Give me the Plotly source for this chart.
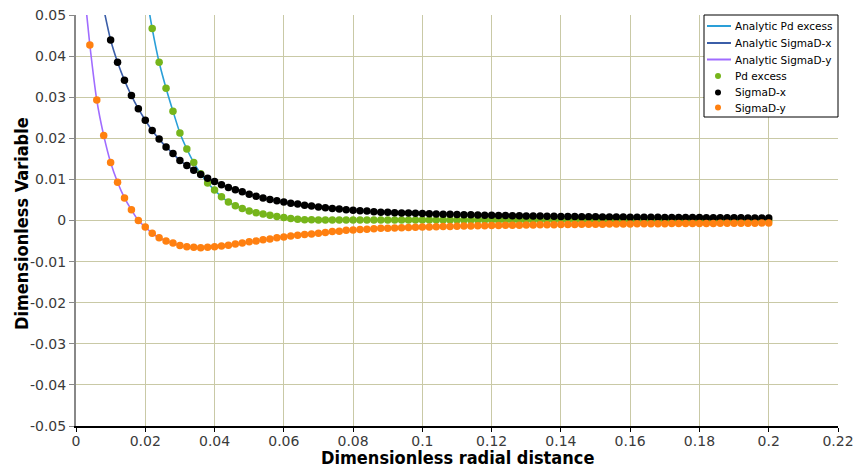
import plotly.graph_objects as go

# Sample radii (dimensionless)
r = [0.004, 0.006, 0.008, 0.010, 0.012, 0.014, 0.016, 0.018, 0.020, 0.022,
     0.024, 0.026, 0.028, 0.030, 0.032, 0.034, 0.036, 0.038, 0.040, 0.042,
     0.044, 0.046, 0.048, 0.050, 0.052, 0.054, 0.056, 0.058, 0.060, 0.062,
     0.064, 0.066, 0.068, 0.070, 0.072, 0.074, 0.076, 0.078, 0.080, 0.082,
     0.084, 0.086, 0.088, 0.090, 0.092, 0.094, 0.096, 0.098, 0.100, 0.102,
     0.104, 0.106, 0.108, 0.110, 0.112, 0.114, 0.116, 0.118, 0.120, 0.122,
     0.124, 0.126, 0.128, 0.130, 0.132, 0.134, 0.136, 0.138, 0.140, 0.142,
     0.144, 0.146, 0.148, 0.150, 0.152, 0.154, 0.156, 0.158, 0.160, 0.162,
     0.164, 0.166, 0.168, 0.170, 0.172, 0.174, 0.176, 0.178, 0.180, 0.182,
     0.184, 0.186, 0.188, 0.190, 0.192, 0.194, 0.196, 0.198, 0.200]

# Excess pore pressure (None = above the plotted range)
pd_excess = [None, None, None, None, None, None, None, None, None, 0.0467,
             0.0385, 0.0322, 0.0266, 0.0213, 0.0174, 0.0141, 0.0114, 0.0091, 0.0074, 0.0058,
             0.0045, 0.0036, 0.0029, 0.0023, 0.0019, 0.0016, 0.0013, 0.0010, 0.0007, 0.0005,
             0.0003, 0.0002, 0.0002, 0.0001, 0.0001, 0.0001, 0.0001, 0.0001, 0.0001, 0.0001,
             0.0001, 0.0001, 0.0001, 0.0001, 0.0001, 0.0001, 0.0001, 0.0001, 0.0001, 0.0001,
             0.0001, 0.0001, 0.0001, 0.0001, 0.0001, 0.0001, 0.0001, 0.0001, 0.0001, 0.00005,
             0.00005, 0.00005, 0.00005, 0.00005, 0.00005, 0.00005, 0.00005, 0.00005, 0.00005, 0.00005,
             0.00005, 0.00005, 0.00005, 0.00005, 0.00005, 0.00005, 0.00005, 0.00005, 0.0, 0.0,
             0.0, 0.0, 0.0, 0.0, 0.0, 0.0, 0.0, 0.0, 0.0, 0.0,
             0.0, 0.0, 0.0, 0.0, 0.0, 0.0, 0.0, 0.0, 0.0]

# Radial stress component
sigma_x = [None, None, None, 0.0439, 0.0385, 0.0341, 0.0304, 0.0272, 0.0244, 0.0219,
           0.0198, 0.0179, 0.0163, 0.0146, 0.0134, 0.0122, 0.0112, 0.0103, 0.0095, 0.0087,
           0.0080, 0.0075, 0.0070, 0.0064, 0.0059, 0.0055, 0.0051, 0.0048, 0.0045, 0.0042,
           0.0040, 0.0037, 0.0035, 0.0033, 0.0031, 0.0029, 0.0028, 0.0026, 0.0025, 0.0024,
           0.0023, 0.0021, 0.0020, 0.0020, 0.0019, 0.00185, 0.0018, 0.00175, 0.0017, 0.00165,
           0.0016, 0.00155, 0.0015, 0.00146, 0.00142, 0.00138, 0.00134, 0.0013, 0.00127, 0.00124,
           0.00121, 0.00118, 0.00115, 0.00112, 0.0011, 0.00107, 0.00105, 0.00102, 0.0010, 0.00098,
           0.00096, 0.00094, 0.00092, 0.0009, 0.00088, 0.00087, 0.00085, 0.00084, 0.00082, 0.00081,
           0.00079, 0.00078, 0.00077, 0.00075, 0.00074, 0.00073, 0.00072, 0.00071, 0.0007, 0.00069,
           0.00068, 0.00067, 0.00066, 0.00065, 0.00064, 0.00063, 0.00062, 0.00061, 0.0006]

# Tangential stress component
sigma_y = [0.0427, 0.0293, 0.0207, 0.0141, 0.0093, 0.0055, 0.0026, 0.0000, -0.0016, -0.0031,
           -0.0042, -0.0050, -0.0055, -0.0061, -0.0064, -0.0065, -0.0066, -0.0065, -0.0064, -0.0062,
           -0.0060, -0.0057, -0.0055, -0.0052, -0.0050, -0.0047, -0.0045, -0.0042, -0.0040, -0.0038,
           -0.0036, -0.0034, -0.0033, -0.0031, -0.0029, -0.0027, -0.0026, -0.0024, -0.0023, -0.0022,
           -0.0021, -0.0020, -0.0019, -0.0019, -0.0018, -0.00175, -0.0017, -0.00165, -0.0016, -0.00156,
           -0.00152, -0.00148, -0.00144, -0.0014, -0.00136, -0.00133, -0.0013, -0.00127, -0.00124, -0.00121,
           -0.00118, -0.00115, -0.00113, -0.0011, -0.00108, -0.00106, -0.00104, -0.00102, -0.001, -0.00098,
           -0.00096, -0.00094, -0.00092, -0.0009, -0.00089, -0.00087, -0.00086, -0.00084, -0.00083, -0.00082,
           -0.0008, -0.00079, -0.00078, -0.00077, -0.00076, -0.00075, -0.00074, -0.00073, -0.00072, -0.00071,
           -0.0007, -0.00069, -0.00068, -0.00067, -0.00066, -0.00065, -0.00064, -0.00063, -0.00062]

# Analytic curves continue above the top of the frame near the origin
pd_line_start = (0.020, 0.0565)
sx_line_start = (0.008, 0.0515)
sy_line_start = (0.002, 0.059)

x_ticks = [0, 0.02, 0.04, 0.06, 0.08, 0.1, 0.12, 0.14, 0.16, 0.18, 0.2, 0.22]
x_tick_text = ["0", "0.02", "0.04", "0.06", "0.08", "0.1", "0.12", "0.14", "0.16", "0.18", "0.2", "0.22"]
y_ticks = [0.05, 0.04, 0.03, 0.02, 0.01, 0, -0.01, -0.02, -0.03, -0.04, -0.05]
y_tick_text = ["0.05", "0.04", "0.03", "0.02", "0.01", "0", "-0.01", "-0.02", "-0.03", "-0.04", "-0.05"]

C_PD_LINE = "#2a9fd8"
C_SX_LINE = "#3b5ea8"
C_SY_LINE = "#a06cff"
C_PD = "#76b51b"
C_SX = "#000000"
C_SY = "#ff8010"

# Figure / plot-area geometry (pixels)
W, H = 856, 471
ML, MR, MT, MB = 76, 18, 15, 45
PW, PH = W - ML - MR, H - MT - MB


def px_x(px):
    return (px - ML) / PW


def px_y(py):
    return 1 - (py - MT) / PH


def analytic(start, values):
    xs = [start[0]]
    ys = [start[1]]
    for xv, yv in zip(r, values):
        if yv is not None and xv > start[0]:
            xs.append(xv)
            ys.append(yv)
    return xs, ys


fig = go.Figure()

line_series = [
    ("Analytic Pd excess", pd_line_start, pd_excess, C_PD_LINE),
    ("Analytic SigmaD-x", sx_line_start, sigma_x, C_SX_LINE),
    ("Analytic SigmaD-y", sy_line_start, sigma_y, C_SY_LINE),
]
point_series = [
    ("Pd excess", pd_excess, C_PD),
    ("SigmaD-x", sigma_x, C_SX),
    ("SigmaD-y", sigma_y, C_SY),
]

for name, start, vals, col in line_series:
    xs, ys = analytic(start, vals)
    fig.add_trace(go.Scatter(
        x=xs, y=ys, mode="lines", name=name, showlegend=False,
        line=dict(color=col, width=1.6, shape="spline", smoothing=0.6),
    ))

for name, vals, col in point_series:
    fig.add_trace(go.Scatter(
        x=r, y=vals, mode="markers", name=name, showlegend=False,
        marker=dict(color=col, size=7.5, symbol="circle", line=dict(width=0)),
    ))

# Legend box drawn in the upper-right corner of the plot area
shapes = []
annotations = []
leg_left, leg_right, leg_top, leg_bottom = 704, 838, 15, 117
shapes.append(dict(type="rect", xref="paper", yref="paper", layer="above",
                   x0=px_x(leg_left), x1=px_x(leg_right), y0=px_y(leg_bottom), y1=px_y(leg_top),
                   line=dict(color="#000000", width=1), fillcolor="white"))
row_y = [26, 43, 59.5, 76, 92.5, 107.5]
legend_font = dict(family="DejaVu Sans", size=10.5, color="#000000")
entries = [(n, c, "line") for n, _, _, c in line_series] + [(n, c, "marker") for n, _, c in point_series]
for (name, col, kind), ry in zip(entries, row_y):
    if kind == "line":
        shapes.append(dict(type="line", xref="paper", yref="paper", layer="above",
                           x0=px_x(707), x1=px_x(731), y0=px_y(ry), y1=px_y(ry),
                           line=dict(color=col, width=2)))
    else:
        shapes.append(dict(type="circle", xref="paper", yref="paper", layer="above",
                           xsizemode="pixel", ysizemode="pixel",
                           xanchor=px_x(718), yanchor=px_y(ry),
                           x0=-3, x1=3, y0=-3, y1=3,
                           line=dict(width=0), fillcolor=col))
    annotations.append(dict(text=name, xref="paper", yref="paper", x=px_x(733), y=px_y(ry),
                            xanchor="left", yanchor="middle", showarrow=False, font=legend_font))

title_font = dict(family="DejaVu Sans Condensed", size=18, color="#000000")
annotations.append(dict(text="<b>Dimensionless radial distance</b>", xref="paper", yref="paper",
                        x=0.5, y=px_y(458), xanchor="center", yanchor="middle",
                        showarrow=False, font=title_font))
annotations.append(dict(text="<b>Dimensionless Variable</b>", xref="paper", yref="paper",
                        x=px_x(21), y=px_y(224), xanchor="center", yanchor="middle",
                        textangle=-90, showarrow=False, font=title_font))

grid_col = "#c9c9a6"
tick_font = dict(family="DejaVu Sans", size=14, color="#3a3a3a")

fig.update_layout(
    width=W, height=H,
    margin=dict(l=ML, r=MR, t=MT, b=MB, autoexpand=False),
    paper_bgcolor="white", plot_bgcolor="white",
    showlegend=False,
    shapes=shapes,
    annotations=annotations,
    xaxis=dict(
        range=[0, 0.22], tickvals=x_ticks, ticktext=x_tick_text, automargin=False,
        showgrid=True, gridcolor=grid_col, gridwidth=1,
        zeroline=False, showline=True, linecolor="#000000", linewidth=1.5,
        ticks="outside", ticklen=4, tickcolor="#000000", tickwidth=1,
        ticklabelstandoff=-3,
        tickfont=tick_font,
    ),
    yaxis=dict(
        range=[-0.05, 0.05], tickvals=y_ticks, ticktext=y_tick_text, automargin=False,
        showgrid=True, gridcolor=grid_col, gridwidth=1,
        zeroline=False, showline=True, linecolor="#888888", linewidth=2,
        ticks="outside", ticklen=5, tickcolor="#888888", tickwidth=1,
        tickfont=tick_font,
    ),
)

fig.write_html("out.html")
